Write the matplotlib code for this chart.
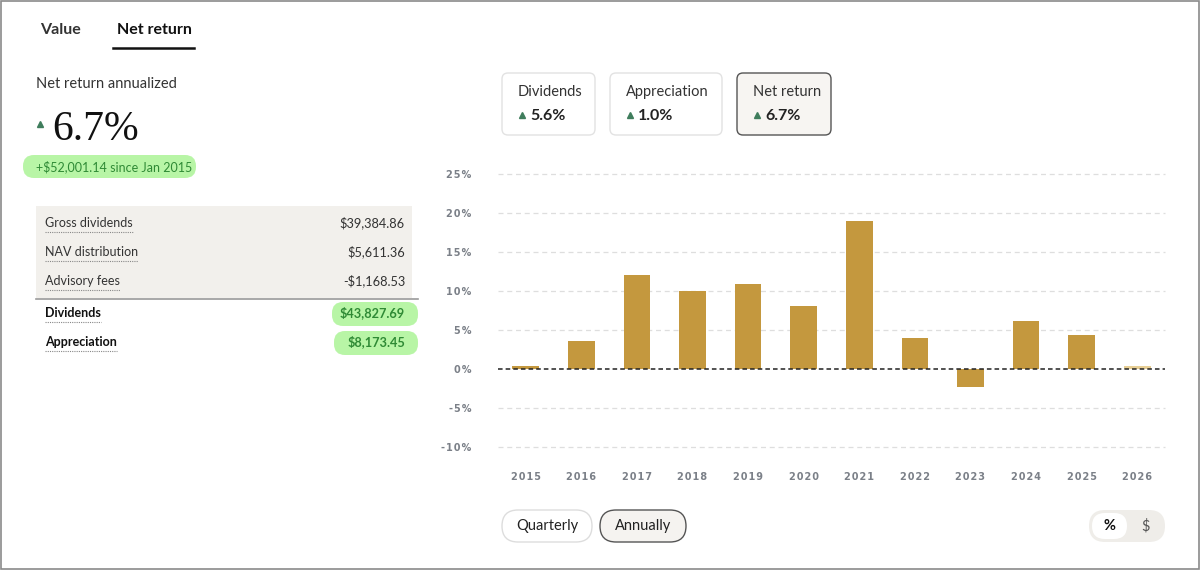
import matplotlib
matplotlib.use("Agg")
import matplotlib.pyplot as plt
from matplotlib.patches import FancyBboxPatch, Rectangle
from matplotlib.ticker import FuncFormatter

# chart data (annual net return, %)
years = ["2015", "2016", "2017", "2018", "2019", "2020",
         "2021", "2022", "2023", "2024", "2025", "2026"]
net_return = [0.4, 3.6, 12.0, 10.0, 10.9, 8.1, 19.0, 4.0, -2.3, 6.2, 4.4, 0.4]
y_ticks = [-10, -5, 0, 5, 10, 15, 20, 25]

# summary panel
headline_label = "Net return annualized"
headline_value = "6.7%"
since_text = "+$52,001.14 since Jan 2015"
detail_labels = ["Gross dividends", "NAV distribution", "Advisory fees"]
detail_values = ["$39,384.86", "$5,611.36", "-$1,168.53"]
total_labels = ["Dividends", "Appreciation"]
total_values = ["$43,827.69", "$8,173.45"]
card_labels = ["Dividends", "Appreciation", "Net return"]
card_values = ["5.6%", "1.0%", "6.7%"]

W, H = 1200, 570
BAR = "#c4983e"
BAR_PARTIAL = "#e8cf95"
UP = "#3f7d5c"
PILL = "#b8f5a6"
PILL_TXT = "#2f8a35"
UI = "Lato"

fig = plt.figure(figsize=(W / 100, H / 100), dpi=100)

# overlay in pixel coordinates for the dashboard bits
ui = fig.add_axes([0, 0, 1, 1])
ui.set_xlim(0, W)
ui.set_ylim(H, 0)
ui.axis("off")


def box(x0, y0, x1, y1, fc, ec="none", r=6, lw=1.0):
    ui.add_patch(FancyBboxPatch((x0 + r, y0 + r), x1 - x0 - 2 * r, y1 - y0 - 2 * r,
                                boxstyle=f"round,pad={r}", fc=fc, ec=ec, lw=lw))


def up_arrow(x, y, s=5):
    ui.plot([x], [y], marker="^", ms=s, color=UP, mec=UP)


# frame
ui.add_patch(Rectangle((0.5, 0.5), W - 1.5, H - 1.5, fill=False, ec="#8a8a8a", lw=1.2))

# tabs
ui.text(40, 30, "Value", fontsize=11.5, family=UI, weight="bold", color="#333333", va="center")
ui.text(117, 30, "Net return", fontsize=11.5, family=UI, weight="bold", color="#111111", va="center")
ui.plot([113, 194], [48, 48], color="#111111", lw=1.8)

# headline
ui.text(36, 84, headline_label, fontsize=10.5, family=UI, color="#333333", va="center")
up_arrow(40, 124, 4)
ui.text(52, 140, headline_value, fontsize=30, family="Liberation Serif", color="#111111", va="baseline")
box(23, 155, 196, 178, PILL, r=11)
ui.text(36, 166.5, since_text, fontsize=9, family=UI, color=PILL_TXT, va="center")

# detail table
ui.add_patch(Rectangle((36, 206), 376, 92, fc="#f2f0ec", ec="none"))
for i, (lab, val) in enumerate(zip(detail_labels, detail_values)):
    y = 223 + i * 29
    ui.text(45, y, lab, fontsize=9, family=UI, color="#333333", va="center")
    ui.text(405, y, val, fontsize=9.2, family=UI, color="#333333", va="center", ha="right")
ui.plot([36, 418], [299, 299], color="#9a9a9a", lw=1.2)
for i, (lab, val) in enumerate(zip(total_labels, total_values)):
    y = 313 + i * 29
    ui.text(45, y, lab, fontsize=9, family=UI, weight="bold", color="#111111", va="center")
    box(332 + i * 2, y - 11, 418, y + 13, PILL, r=11)
    ui.text(405, y, val, fontsize=9.2, family=UI, weight="bold", color=PILL_TXT, va="center", ha="right")

# dotted underlines under the row labels
fig.canvas.draw()
rend = fig.canvas.get_renderer()
for t in list(ui.texts):
    if t.get_text() in detail_labels + total_labels:
        bb = t.get_window_extent(rend)
        y = H - bb.y0 + 3
        ui.plot([bb.x0, bb.x1], [y, y], color="#888888", lw=0.8, ls=(0, (1, 1)))

# cards
card_x = [(502, 595), (610, 722), (737, 831)]
for i, ((x0, x1), lab, val) in enumerate(zip(card_x, card_labels, card_values)):
    sel = i == len(card_labels) - 1
    box(x0, 73, x1, 135, "#f7f5f2" if sel else "white",
        ec="#555555" if sel else "#e2e2e2", r=6, lw=1.0)
    ui.text(x0 + 16, 92, lab, fontsize=10.5, family=UI, color="#333333", va="center")
    up_arrow(x0 + 20, 115, 4.5)
    ui.text(x0 + 28, 116, val, fontsize=11.5, family=UI, weight="bold", color="#222222", va="center")

# period buttons
box(502, 510, 592, 542, "white", ec="#dddddd", r=16)
ui.text(547, 526, "Quarterly", fontsize=10.5, family=UI, color="#222222", ha="center", va="center")
box(600, 510, 686, 542, "#f5f3f0", ec="#555555", r=16)
ui.text(643, 526, "Annually", fontsize=10.5, family=UI, color="#222222", ha="center", va="center")

# unit toggle
box(1089, 510, 1165, 542, "#efede9", r=16)
box(1092, 513, 1127, 539, "white", r=13)
ui.text(1109, 526, "%", fontsize=10.5, family=UI, weight="bold", color="#111111", ha="center", va="center")
ui.text(1146, 526, "$", fontsize=10.5, family=UI, color="#555555", ha="center", va="center")

# bar chart
ax = fig.add_axes([498 / W, 1 - 447 / H, (1165 - 498) / W, (447 - 174) / H])
ax.set_facecolor("none")
xs = list(range(len(years)))
colors = [BAR] * (len(years) - 1) + [BAR_PARTIAL]
ax.bar(xs, net_return, width=0.48, color=colors, zorder=3)
ax.set_xlim(-0.5, len(years) - 0.5)
ax.set_ylim(min(y_ticks), max(y_ticks))
ax.set_yticks(y_ticks)
for v in y_ticks:
    if v != 0:
        ax.axhline(v, color="#dedede", lw=0.9, ls=(0, (4, 3)), zorder=1, clip_on=False)
ax.axhline(0, color="#222222", lw=1.1, ls=(0, (3, 2)), zorder=4)

spaced = lambda s: "\u200a".join(s)
ax.yaxis.set_major_formatter(FuncFormatter(lambda v, p: spaced(f"{int(v)}%")))
ax.set_xticks(xs)
ax.set_xticklabels([spaced(y) for y in years])
ax.tick_params(length=0, labelsize=7, labelcolor="#7b8088")
ax.tick_params(axis="y", pad=19)
ax.tick_params(axis="x", pad=18)
for lab in ax.get_xticklabels() + ax.get_yticklabels():
    lab.set_fontweight("bold")
for s in ax.spines.values():
    s.set_visible(False)

fig.savefig("out.png", dpi=100)
